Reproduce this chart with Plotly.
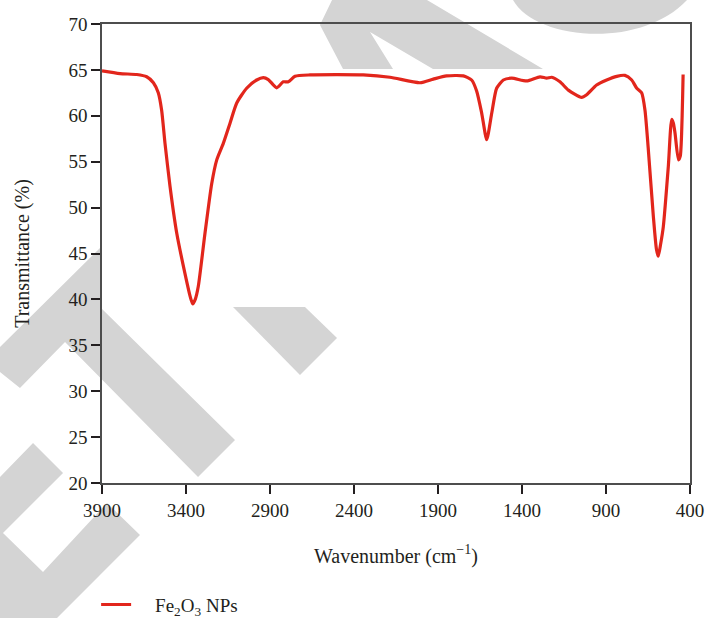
import plotly.graph_objects as go

# ---- data ----
wavenumber = [3900, 3793, 3693, 3634, 3594, 3565, 3545, 3525, 3495, 3455, 3406, 3375, 3360,
              3345, 3327, 3287, 3247, 3217, 3178, 3138, 3098, 3039, 2979, 2940, 2910, 2860,
              2821, 2791, 2751, 2662, 2345, 2186, 2007, 1928, 1849, 1749, 1700, 1670, 1640,
              1610, 1580, 1551, 1511, 1461, 1372, 1293, 1253, 1223, 1174, 1124, 1045, 1015,
              956, 896, 836, 787, 747, 717, 688, 668, 648, 618, 600, 589, 575, 559, 529, 509,
              499, 489, 469, 458, 450, 444, 441]
transmittance = [64.9, 64.6, 64.5, 64.25, 63.6, 62.5, 60.6, 57.0, 52.3, 47.2, 42.8, 40.3, 39.5,
                 40.0, 41.4, 47.2, 52.6, 55.2, 57.0, 59.2, 61.4, 63.0, 63.9, 64.15, 63.95, 63.05,
                 63.7, 63.7, 64.3, 64.45, 64.45, 64.2, 63.6, 64.0, 64.35, 64.35, 63.9, 62.7, 60.3,
                 57.4, 60.3, 63.0, 63.9, 64.1, 63.8, 64.25, 64.1, 64.2, 63.7, 62.8, 62.0, 62.3,
                 63.35, 63.9, 64.3, 64.4, 63.9, 63.0, 62.5, 60.6, 56.3, 49.0, 45.5, 44.7, 46.0, 47.9,
                 54.5, 59.6, 59.2, 58.1, 55.2, 55.6, 58.0, 62.0, 64.5]
series_name = "\u00a0\u00a0\u00a0\u00a0Fe<sub>2</sub>O<sub>3</sub> NPs"
x_ticks = [3900, 3400, 2900, 2400, 1900, 1400, 900, 400]
y_ticks = [20, 25, 30, 35, 40, 45, 50, 55, 60, 65, 70]

W, H = 707, 618
L, R, T, B = 102, 17, 24, 135
PW, PH = W - L - R, H - T - B


def P(px, py):
    return (px - L) / PW, (H - B - py) / PH


def poly(pts):
    s = ""
    for i, (px, py) in enumerate(pts):
        x, y = P(px, py)
        s += ("M" if i == 0 else "L") + f"{x:.4f},{y:.4f} "
    return s + "Z"


GREY = "#d4d4d4"
wm = [
    [(0, 347), (100, 248), (100, 307), (235, 440), (198, 477), (65, 342), (20, 388), (0, 372)],
    [(233, 307), (305, 307), (337, 338), (300, 375)],
    [(0, 477), (33, 443), (63, 473), (3, 533), (43, 572), (107, 503), (140, 535), (57, 618), (0, 618)],
    [(332, 0), (320, 25), (343, 69), (393, 69), (370, 32), (433, 69), (543, 69), (427, 0)],
]
shapes = [dict(type="path", xref="paper", yref="paper", path=poly(p), fillcolor=GREY,
               line=dict(width=0), layer="below") for p in wm]
a = P(513, 0); b = P(535, 40); c = P(640, 50); d = P(687, 0)
shapes.append(dict(type="path", xref="paper", yref="paper",
                   path=f"M{a[0]:.4f},{a[1]:.4f} C{b[0]:.4f},{b[1]:.4f} {c[0]:.4f},{c[1]:.4f} {d[0]:.4f},{d[1]:.4f} Z",
                   fillcolor=GREY, line=dict(width=0), layer="below"))

fig = go.Figure()
fig.add_trace(go.Scatter(x=wavenumber, y=transmittance, mode="lines", name=series_name,
                         line=dict(color="#e2261c", width=3.2, shape="spline", smoothing=0.6),
                         showlegend=True))

FONT = "Liberation Serif"
fig.update_layout(
    width=W, height=H,
    margin=dict(l=L, r=R, t=T, b=B, autoexpand=False),
    paper_bgcolor="white", plot_bgcolor="rgba(0,0,0,0)",
    font=dict(family=FONT, size=19, color="#231f20"),
    shapes=shapes,
    showlegend=True,
    legend=dict(orientation="h", x=-0.01, xanchor="left", y=-0.265, yanchor="middle",
                font=dict(family=FONT, size=19), bgcolor="rgba(0,0,0,0)"),
    xaxis=dict(range=[3900, 400], tickvals=x_ticks, ticktext=[str(v) for v in x_ticks],
               showgrid=False, zeroline=False, showline=True, linecolor="#4d4d4d", linewidth=1.5,
               mirror=True, ticks="outside", ticklen=9, tickwidth=2, tickcolor="#231f20",
               tickfont=dict(family=FONT, size=19),
               title=dict(text="Wavenumber (cm<sup>−1</sup>)", standoff=29,
                          font=dict(family=FONT, size=20))),
    yaxis=dict(range=[20, 70], tickvals=y_ticks, showgrid=False, zeroline=False,
               showline=True, linecolor="#4d4d4d", linewidth=1.5, mirror=True,
               ticks="outside", ticklen=9, tickwidth=2, tickcolor="#231f20",
               tickfont=dict(family=FONT, size=19),
               title=dict(text="Transmittance (%)", standoff=33,
                          font=dict(family=FONT, size=20))),
)

fig.write_html("out.html", config={"displayModeBar": False},
               post_script="document.body.style.margin='0px';")
